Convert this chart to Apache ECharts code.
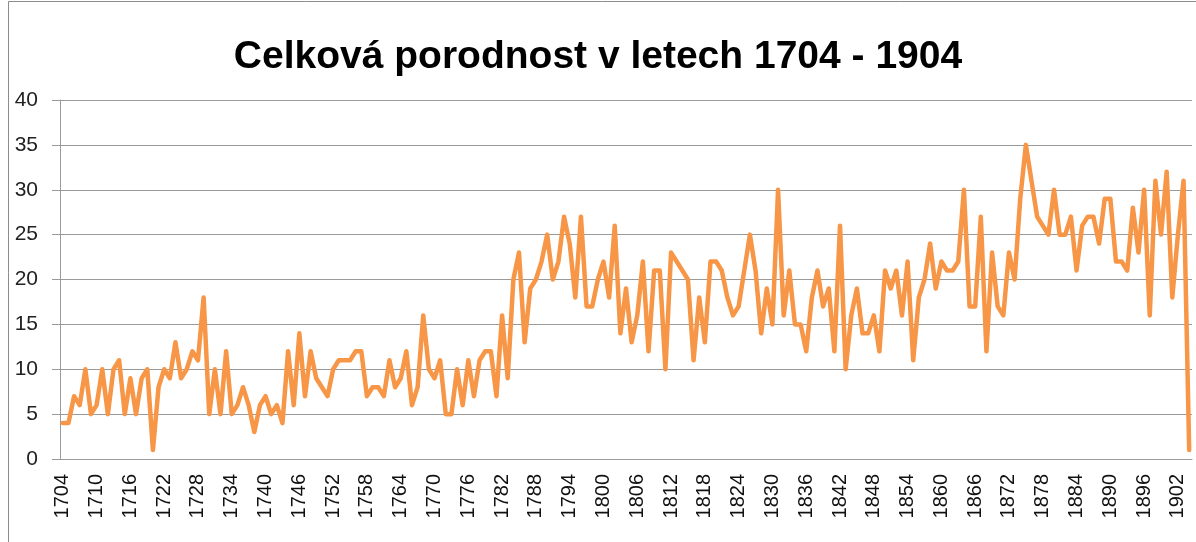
<!DOCTYPE html>
<html><head><meta charset="utf-8">
<script src="https://cdn.jsdelivr.net/npm/echarts@6/dist/echarts.min.js"></script>
<style>html,body{margin:0;padding:0;background:#fff}#c{width:1196px;height:542px}</style>
</head><body><div id="c"></div>
<script>
const startYear = 1704;
const endYear = 1904;
const years = [];
for (let y = startYear; y <= endYear; y++) years.push(String(y));
const births = [
 4,4,7,6,10,5,6,10,5,10, 11,5,9,5,9,10,1,8,10,9,
 13,9,10,12,11,18,5,10,5,12, 5,6,8,6,3,6,7,5,6,4,
 12,6,14,7,12,9,8,7,10,11, 11,11,12,12,7,8,8,7,11,8,
 9,12,6,8,16,10,9,11,5,5, 10,6,11,7,11,12,12,7,16,9,
 20,23,13,19,20,22,25,20,22,27, 24,18,27,17,17,20,22,18,26,14,
 19,13,16,22,12,21,21,10,23,22, 21,20,11,18,13,22,22,21,18,16,
 17,21,25,21,14,19,15,30,16,21, 15,15,12,18,21,17,19,12,26,10,
 16,19,14,14,16,12,21,19,21,16, 22,11,18,20,24,19,22,21,21,22,
 30,17,17,27,12,23,17,16,23,20, 29,35,31,27,26,25,30,25,25,27,
 21,26,27,27,24,29,29,22,22,21, 28,23,30,16,31,25,32,18,25,31,
 1
];
const titleText = 'Celková porodnost v letech 1704 - 1904';

const chart = echarts.init(document.getElementById('c'));
chart.setOption({
  animation: false,
  backgroundColor: '#fff',
  graphic: [{
    type: 'rect', silent: true,
    shape: { x: 8.5, y: 1.5, width: 1300, height: 700 },
    style: { fill: 'none', stroke: '#8c8c8c', lineWidth: 1 }
  }],
  title: {
    text: titleText, left: 'center', top: 33,
    textStyle: { fontFamily: 'Liberation Sans', fontWeight: 'bold', fontSize: 39, color: '#000' }
  },
  grid: { left: 60, right: 4, top: 100, bottom: 83, containLabel: false },
  xAxis: {
    type: 'category', data: years, boundaryGap: true,
    axisLine: { lineStyle: { color: '#9a9a9a', width: 1 } },
    axisTick: { interval: 0, length: 6, lineStyle: { color: '#9a9a9a' } },
    axisLabel: { interval: 5, rotate: 90, margin: 15, fontFamily: 'Liberation Sans', fontSize: 20, color: '#111' },
    splitLine: { show: false }
  },
  yAxis: {
    type: 'value', min: 0, max: 40, interval: 5,
    axisLine: { show: true, lineStyle: { color: '#9a9a9a', width: 1 } },
    axisTick: { show: true, length: 8, lineStyle: { color: '#9a9a9a' } },
    axisLabel: { margin: 22, fontFamily: 'Liberation Sans', fontSize: 21, color: '#222' },
    splitLine: { lineStyle: { color: '#9a9a9a', width: 1 } }
  },
  series: [{
    type: 'line', data: births, symbol: 'none', smooth: false,
    lineStyle: { color: '#F79646', width: 4.5, join: 'round', cap: 'round' }
  }]
});
</script></body></html>
